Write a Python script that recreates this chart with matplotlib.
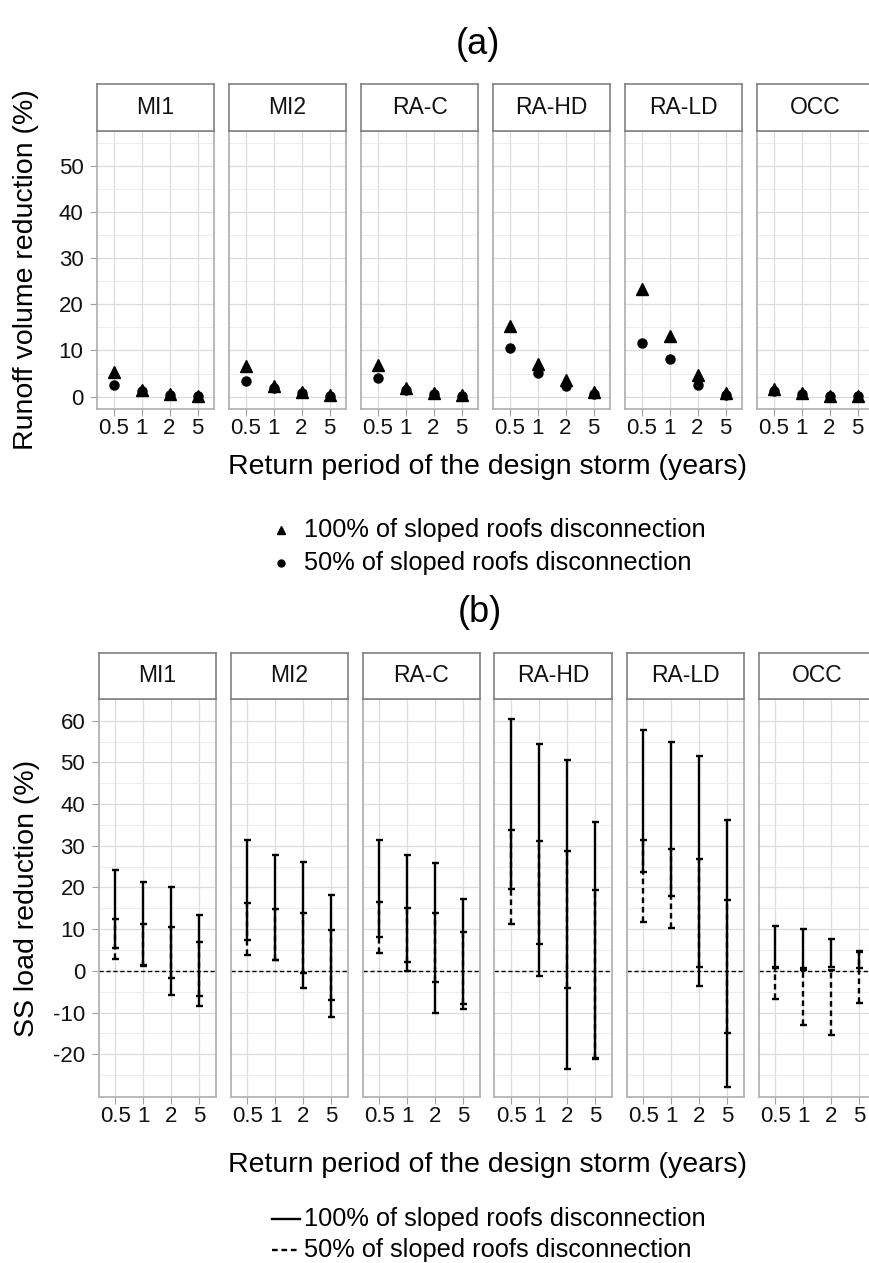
import numpy as np
import matplotlib
matplotlib.use("Agg")
import matplotlib.pyplot as plt
from matplotlib.lines import Line2D

plt.rcParams['font.family'] = ['Liberation Sans', 'DejaVu Sans']
plt.rcParams['axes.unicode_minus'] = False

# catchments (facets) and return periods (x categories)
catchments = ['MI1', 'MI2', 'RA-C', 'RA-HD', 'RA-LD', 'OCC']
periods = ['0.5', '1', '2', '5']

# (a) runoff volume reduction (%)
vol_100 = [[5.4, 1.45, 0.5, 0.2],
           [6.6, 2.4, 0.9, 0.35],
           [6.9, 1.9, 0.7, 0.3],
           [15.3, 7.0, 3.6, 1.0],
           [23.3, 13.2, 4.6, 0.7],
           [1.7, 0.7, 0.2, 0.1]]
vol_50 = [[2.6, 1.2, 0.3, 0.1],
          [3.3, 1.8, 0.7, 0.2],
          [4.0, 1.5, 0.5, 0.2],
          [10.6, 5.1, 2.3, 0.6],
          [11.6, 8.1, 2.5, 0.3],
          [1.3, 0.5, 0.2, 0.1]]

# (b) SS load reduction (%) ranges
ss_lo_100 = [[5.6, 1.5, -5.8, -8.4],
             [7.5, 2.7, -4.1, -11.0],
             [8.1, 0.0, -10.2, -9.1],
             [19.6, -1.3, -23.6, -21.1],
             [23.6, 18.0, -3.6, -27.8],
             [0.6, 0.7, 1.0, 0.7]]
ss_hi_100 = [[24.1, 21.3, 20.0, 13.3],
             [31.4, 27.9, 26.1, 18.3],
             [31.4, 27.9, 25.8, 17.2],
             [60.5, 54.4, 50.5, 35.7],
             [57.9, 54.8, 51.5, 36.1],
             [10.7, 10.1, 7.7, 4.7]]
ss_lo_50 = [[2.8, 1.2, -1.6, -6.0],
            [3.8, 2.5, -0.6, -7.0],
            [4.3, 2.2, -2.7, -8.0],
            [11.3, 6.4, -4.2, -20.9],
            [11.7, 10.3, 1.0, -14.9],
            [-6.7, -13.0, -15.4, -7.6]]
ss_hi_50 = [[12.4, 11.3, 10.4, 7.0],
            [16.3, 14.8, 13.9, 9.7],
            [16.5, 15.1, 13.9, 9.3],
            [33.8, 31.1, 28.7, 19.3],
            [31.3, 29.2, 26.9, 16.9],
            [0.9, 0.1, 0.3, 4.5]]

W, H = 869, 1263
fig = plt.figure(figsize=(W / 100, H / 100), dpi=100)


def box(x0, y0, x1, y1):
    # pixel box (top-left origin) -> figure fraction
    return [x0 / W, 1 - y1 / H, (x1 - x0) / W, (y1 - y0) / H]


def style_panel(ax, ylim, major, minor, first):
    ax.set_xlim(0.4, 4.6)
    ax.set_ylim(*ylim)
    ax.set_xticks(np.arange(1, 5))
    ax.set_xticklabels(periods)
    ax.set_yticks(major)
    ax.set_yticks(minor, minor=True)
    ax.grid(True, which='major', color='#dcdcdc', linewidth=0.9)
    ax.grid(True, which='minor', axis='y', color='#e9e9e9', linewidth=0.6)
    ax.set_axisbelow(True)
    for s in ax.spines.values():
        s.set_color('#b3b3b3')
        s.set_linewidth(1.3)
    ax.tick_params(which='major', length=5, color='#a0a0a0', labelsize=16,
                   labelcolor='#111111')
    ax.tick_params(axis='x', pad=1.5)
    ax.tick_params(axis='y', pad=4.5)
    ax.tick_params(which='minor', length=0)
    if not first:
        ax.tick_params(axis='y', labelleft=False, length=0)


def strip(x0, y0, x1, y1, label):
    s = fig.add_axes(box(x0, y0, x1, y1))
    s.set_xticks([])
    s.set_yticks([])
    for sp in s.spines.values():
        sp.set_color('#808080')
        sp.set_linewidth(1.2)
    s.text(0.5, 0.5, label, ha='center', va='center', fontsize=16.5,
           color='#111111', transform=s.transAxes)


xs = np.arange(1, 5)

# ---------- (a) ----------
for i, name in enumerate(catchments):
    left = 96.7 + i * 132
    ax = fig.add_axes(box(left, 130.7, left + 117.7, 409))
    style_panel(ax, (-2.7, 57.7), np.arange(0, 51, 10), np.arange(5, 56, 10), i == 0)
    ax.plot(xs, vol_50[i], 'o', color='black', markersize=6.5, zorder=3)
    ax.plot(xs, vol_100[i], '^', color='black', markersize=8.5, zorder=4)
    strip(left, 84, left + 117.7, 130.7, name)

fig.text(478 / W, 1 - 45 / H, '(a)', ha='center', va='center', fontsize=26)
fig.text(487 / W, 1 - 467 / H, 'Return period of the design storm (years)',
         ha='center', va='center', fontsize=20.5)
fig.text(26 / W, 1 - 270 / H, 'Runoff volume reduction (%)', ha='center',
         va='center', rotation=90, fontsize=20.5)

# legend (a)
fig.add_artist(Line2D([281 / W], [1 - 530 / H], marker='^', color='black',
                      markersize=6, linestyle='none'))
fig.add_artist(Line2D([281 / W], [1 - 563 / H], marker='o', color='black',
                      markersize=5, linestyle='none'))
fig.text(304 / W, 1 - 530 / H, '100% of sloped roofs disconnection',
         ha='left', va='center', fontsize=18.3)
fig.text(304 / W, 1 - 563 / H, '50% of sloped roofs disconnection',
         ha='left', va='center', fontsize=18.3)

# ---------- (b) ----------
dash = (0, (2.4, 1.6))
cap = 0.12
lw = 1.7
for i, name in enumerate(catchments):
    left = 98.5 + i * 132
    ax = fig.add_axes(box(left, 698.7, left + 117.7, 1096.7))
    style_panel(ax, (-30.2, 65.3), np.arange(-20, 61, 10), np.arange(-25, 56, 10), i == 0)
    ax.axhline(0, color='black', linewidth=1.0, linestyle=(0, (3, 2)), zorder=2)
    # 50 % (dashed) first, 100 % (solid) over it
    ax.vlines(xs, ss_lo_50[i], ss_hi_50[i], color='black', linewidth=lw,
              linestyles=[dash], zorder=3)
    ax.hlines(ss_lo_50[i], xs - cap, xs + cap, color='black', linewidth=lw, zorder=3)
    ax.hlines(ss_hi_50[i], xs - cap, xs + cap, color='black', linewidth=lw, zorder=3)
    ax.vlines(xs, ss_lo_100[i], ss_hi_100[i], color='black', linewidth=lw, zorder=4)
    ax.hlines(ss_lo_100[i], xs - cap, xs + cap, color='black', linewidth=lw, zorder=4)
    ax.hlines(ss_hi_100[i], xs - cap, xs + cap, color='black', linewidth=lw, zorder=4)
    strip(left, 652.7, left + 117.7, 698.7, name)

fig.text(480 / W, 1 - 613 / H, '(b)', ha='center', va='center', fontsize=26)
fig.text(487 / W, 1 - 1165 / H, 'Return period of the design storm (years)',
         ha='center', va='center', fontsize=20.5)
fig.text(27 / W, 1 - 898 / H, 'SS load reduction (%)', ha='center',
         va='center', rotation=90, fontsize=20.5)

# legend (b)
fig.add_artist(Line2D([272 / W, 300 / W], [1 - 1219 / H] * 2, color='black',
                      linewidth=lw))
fig.add_artist(Line2D([272 / W, 300 / W], [1 - 1250 / H] * 2, color='black',
                      linewidth=lw, linestyle=dash))
fig.text(304 / W, 1 - 1219 / H, '100% of sloped roofs disconnection',
         ha='left', va='center', fontsize=18.3)
fig.text(304 / W, 1 - 1250 / H, '50% of sloped roofs disconnection',
         ha='left', va='center', fontsize=18.3)

fig.savefig('out.png', dpi=100, facecolor='white')
